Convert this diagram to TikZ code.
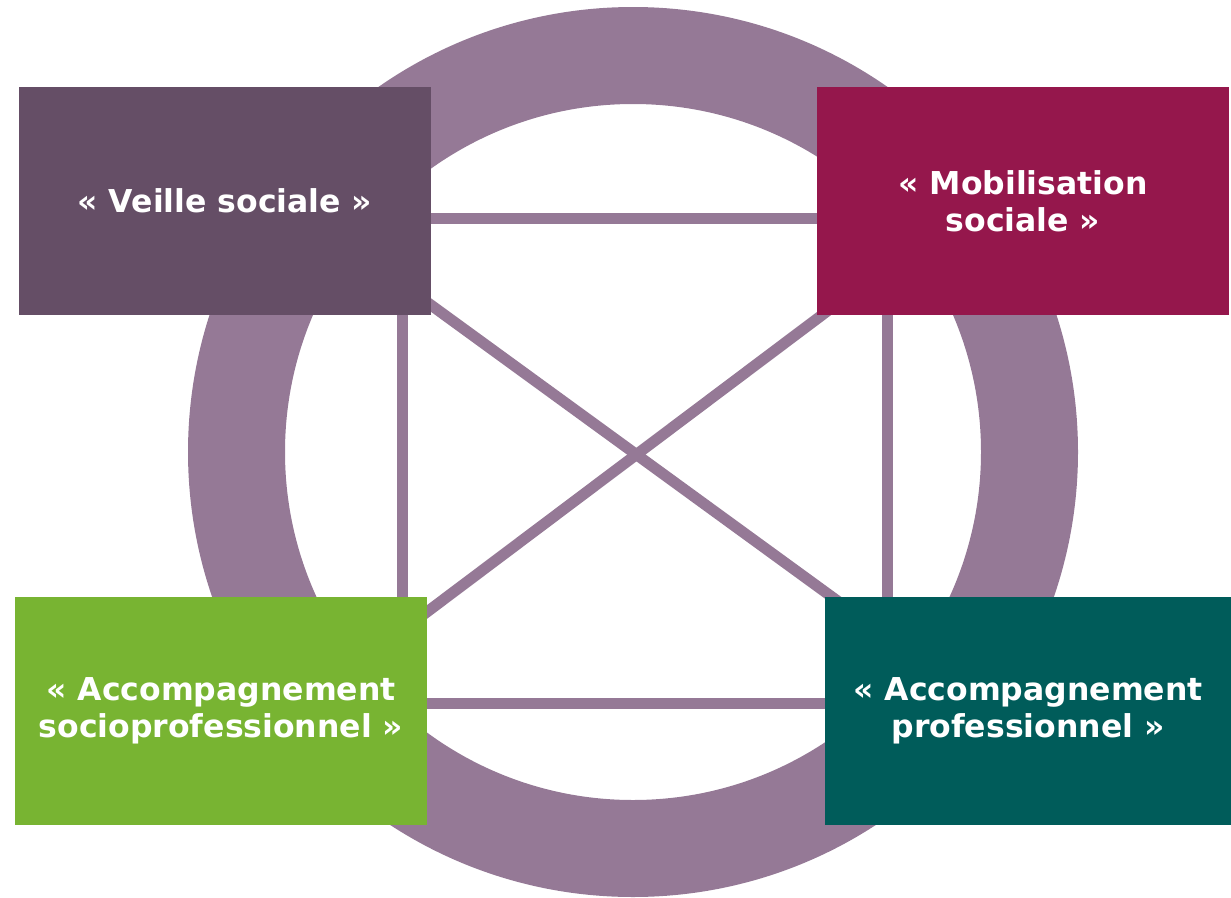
\documentclass[tikz,border=0pt]{standalone}
\usepackage{fontspec}
\setmainfont{DejaVu Sans}
\usetikzlibrary{positioning}
\pgfdeclarelayer{bg}
\pgfsetlayers{bg,main}
\definecolor{ringmauve}{RGB}{149,121,150}
\definecolor{veillecol}{RGB}{101,78,102}
\definecolor{mobilcol}{RGB}{149,23,76}
\definecolor{sociocol}{RGB}{120,180,50}
\definecolor{procol}{RGB}{0,92,90}

\begin{document}
\begin{tikzpicture}[x=1pt,y=-1pt,
	pole/.style={rectangle,inner sep=0pt,minimum width=412pt,minimum height=228pt,
		text=white,align=center,font=\bfseries\fontsize{31.5}{37}\selectfont},
	link/.style={ringmauve,line width=11pt,shorten <=-12pt,shorten >=-12pt}]
	\useasboundingbox (0,0) rectangle (1231,897);
		\node [pole,fill=veillecol] (veille) at (225,201) {« Veille sociale »};
		\node [pole,fill=mobilcol] (mobil) at (1023,201) {« Mobilisation\\ sociale »};
		\node [pole,fill=sociocol] (socio) at (221,711) {« Accompagnement\\ socioprofessionnel »};
		\node [pole,fill=procol,minimum width=406pt] (pro) at (1028,711) {« Accompagnement\\ professionnel »};
	\begin{pgfonlayer}{bg}
		% anneau
		\fill [ringmauve,even odd rule] (633,452) circle (445pt) (633,452) circle (348pt);
		\draw [link] (veille.east |- 0,218) to (mobil.west |- 0,218);
		\draw [link] (socio.east |- 0,703) to (pro.west |- 0,703);
		\draw [link] (veille.south -| 402,0) to (socio.north -| 402,0);
		\draw [link] (mobil.south -| 887,0) to (pro.north -| 887,0);
		\draw [link] ([yshift=10pt]veille.south east) to ([xshift=7pt]pro.north west);
		\draw [link] ([yshift=-15pt]socio.north east) to ([xshift=5pt]mobil.south west);
	\end{pgfonlayer}
\end{tikzpicture}
\end{document}
